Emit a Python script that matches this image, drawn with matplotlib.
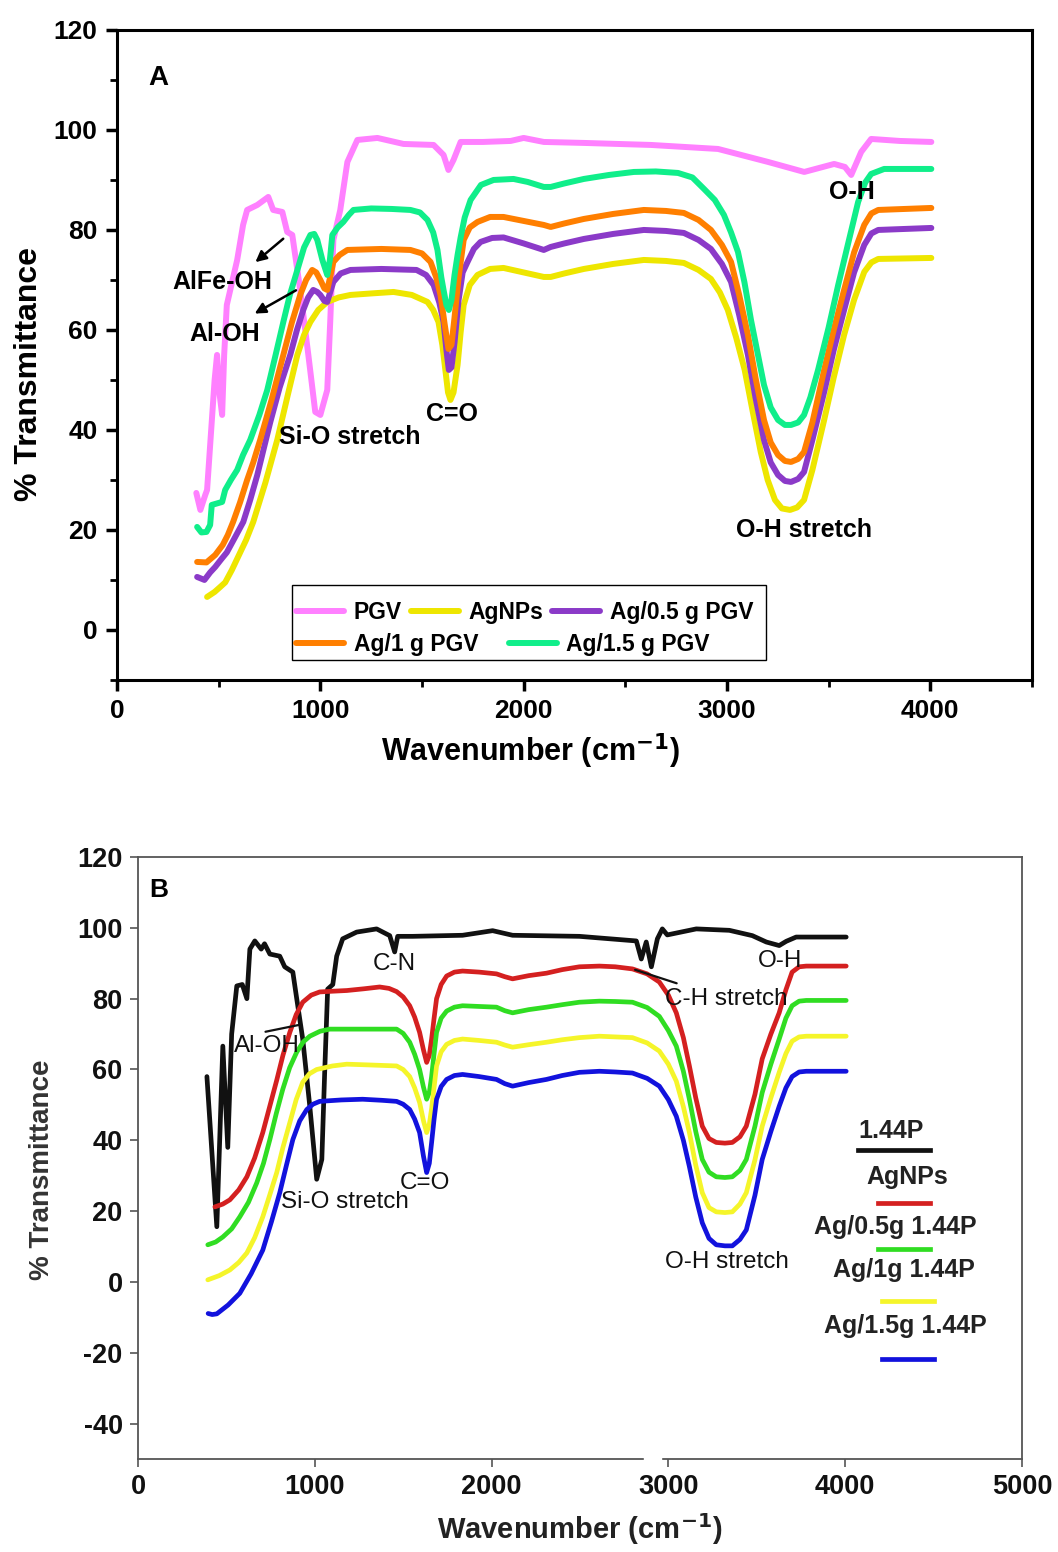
import matplotlib
matplotlib.use("Agg")
import matplotlib.pyplot as plt
from matplotlib.patches import Rectangle
from matplotlib.ticker import MultipleLocator
import matplotlib.transforms as mtransforms

plt.rcParams["font.family"] = ["Liberation Sans", "DejaVu Sans"]
plt.rcParams["axes.unicode_minus"] = False

# ---------- panel A data (wavenumber, % transmittance) ----------
pgv_x = [390, 410, 434, 443, 480, 492, 505, 517, 527, 540, 591, 620, 640, 690, 744, 768, 813, 837,
         862, 901, 941, 975, 1000, 1034, 1049, 1064, 1098, 1133, 1182, 1281, 1409, 1557, 1606, 1630,
         1655, 1690, 1800, 1936, 2000, 2099, 2300, 2626, 2956, 3202, 3380, 3527, 3580, 3611, 3660,
         3709, 3850, 4005]
pgv_y = [27.4, 24, 27, 28, 50, 55, 47, 43, 55, 65, 74, 81, 84, 85, 86.6, 84, 83.6, 79.6,
         79, 68, 55, 43.6, 43, 48, 62, 78, 84, 93.6, 98, 98.4, 97.2, 97, 95, 92,
         94, 97.6, 97.6, 97.8, 98.4, 97.6, 97.4, 97, 96.2, 93.6, 91.6, 93.2, 92.6, 91, 95.6,
         98.2, 97.8, 97.6]

agnp_a_x = [443, 480, 505, 532, 565, 600, 635, 670, 730, 788, 840, 887, 920, 951, 990, 1034, 1090,
            1148, 1250, 1360, 1450, 1527, 1555, 1581, 1600, 1616, 1628, 1640, 1655, 1675, 1690,
            1705, 1735, 1773, 1835, 1901, 2000, 2099, 2133, 2200, 2296, 2440, 2591, 2700, 2788,
            2860, 2921, 2965, 3004, 3045, 3087, 3125, 3166, 3200, 3236, 3270, 3310, 3345, 3379,
            3420, 3478, 3525, 3576, 3625, 3675, 3710, 3744, 4005]
agnp_a_y = [6.6, 7.6, 8.5, 9.5, 12, 15, 18, 21.6, 29.5, 38, 47, 55, 59, 61.6, 64, 65.6, 66.5,
            67, 67.3, 67.6, 67, 65.6, 64, 61.6, 57, 51.6, 47.5, 46, 47.5, 53, 59.5,
            65, 69, 71, 72.2, 72.4, 71.5, 70.6, 70.6, 71.3, 72.2, 73.2, 74, 73.8, 73.4,
            72, 70.2, 67.5, 64, 58.5, 52, 44, 35.6, 30, 26, 24.3, 24, 24.5, 26,
            32, 42, 50.5, 59, 66, 71.6, 73.5, 74.2, 74.4]

ag05_a_x = [394, 430, 458, 483, 510, 540, 580, 621, 655, 690, 720, 754, 800, 852, 885, 916, 940,
            965, 985, 1000, 1020, 1034, 1048, 1064, 1100, 1148, 1300, 1473, 1520, 1557, 1585,
            1606, 1620, 1632, 1645, 1660, 1680, 1700, 1724, 1755, 1788, 1845, 1901, 2000, 2099,
            2133, 2200, 2296, 2440, 2591, 2700, 2788, 2860, 2921, 2975, 3020, 3060, 3103, 3140,
            3182, 3215, 3251, 3285, 3315, 3350, 3379, 3420, 3478, 3525, 3576, 3625, 3675, 3710,
            3744, 4005]
ag05_a_y = [10.6, 10, 11.5, 12.6, 14, 15.5, 18.5, 21.6, 26, 31, 36, 41.6, 48.5, 55, 60, 64, 66.5,
            68, 67.6, 67, 65.8, 65.6, 67.5, 69.6, 71.3, 72, 72.2, 72, 71, 69, 65.5,
            61.6, 56, 52, 52.5, 57.5, 66, 71.5, 73.6, 76.2, 77.6, 78.4, 78.5, 77.3, 76,
            76.6, 77.3, 78.2, 79.2, 80, 79.8, 79.4, 78, 76.2, 73.2, 69.6, 63, 55, 46.5,
            38, 33.5, 31, 29.8, 29.6, 30.2, 31.6, 38, 47.6, 56, 64, 71.5, 77, 79.3,
            80, 80.4]

ag1_a_x = [394, 440, 483, 520, 545, 571, 605, 640, 670, 704, 760, 818, 860, 901, 930, 960, 980,
           1000, 1020, 1034, 1048, 1064, 1095, 1133, 1300, 1443, 1500, 1542, 1570, 1591, 1612,
           1630, 1645, 1660, 1680, 1705, 1735, 1773, 1835, 1901, 2000, 2099, 2133, 2200, 2296,
           2440, 2591, 2700, 2788, 2860, 2921, 2975, 3020, 3060, 3103, 3140, 3182, 3215, 3251,
           3285, 3315, 3350, 3379, 3420, 3478, 3525, 3576, 3625, 3675, 3710, 3744, 4005]
ag1_a_y = [13.6, 13.5, 15, 17, 19, 21.6, 25.5, 30, 33.5, 38, 46, 55, 61.5, 67, 70, 72, 71.5,
           70, 68.3, 68, 70.5, 73.6, 75, 76, 76.2, 76, 75.3, 73.6, 70.5, 67, 61,
           56.2, 57, 62.5, 70.5, 78, 80.5, 81.6, 82.6, 82.6, 81.8, 81, 80.6, 81.3, 82.2,
           83.2, 84, 83.8, 83.4, 82, 80, 77, 73.6, 67, 59, 50.5, 42, 37.5, 35,
           33.8, 33.6, 34.2, 35.6, 41.5, 52, 60, 68, 75.5, 81, 83.3, 84, 84.4]

ag15_a_x = [394, 415, 440, 458, 466, 517, 532, 560, 591, 620, 655, 700, 739, 780, 818, 850, 887,
            920, 951, 970, 985, 1010, 1034, 1047, 1059, 1085, 1113, 1140, 1163, 1250, 1350, 1443,
            1490, 1527, 1555, 1576, 1595, 1606, 1620, 1632, 1645, 1660, 1675, 1690, 1710, 1739,
            1790, 1852, 1950, 2020, 2099, 2133, 2200, 2296, 2420, 2542, 2650, 2759, 2830, 2887,
            2940, 2985, 3020, 3054, 3086, 3118, 3150, 3182, 3215, 3251, 3285, 3315, 3350, 3379,
            3410, 3448, 3500, 3547, 3600, 3645, 3680, 3709, 3773, 4005]
ag15_a_y = [20.6, 19.5, 19.6, 21, 25, 25.6, 28, 30, 32, 35, 38, 43, 48, 55, 61.6, 67, 72,
            76.5, 79, 79.2, 78, 74, 71, 74, 79, 80.5, 81.6, 83, 84, 84.3, 84.2, 84,
            83.5, 82, 79.5, 76, 70.5, 68, 65, 64, 66, 71, 75, 78.5, 82.5, 86,
            89, 90, 90.2, 89.6, 88.6, 88.6, 89.3, 90.2, 91, 91.6, 91.7, 91.4, 90.5, 88.2,
            86, 83, 79.5, 75.6, 69.5, 62, 55.5, 49, 44.5, 42, 41, 41, 41.5, 43,
            46.5, 52, 60.5, 69, 78, 85.6, 89.5, 91.2, 92.2, 92.2]

labels_a = ["PGV", "AgNPs", "Ag/0.5 g PGV", "Ag/1 g PGV", "Ag/1.5 g PGV"]
colors_a = ["#FF80FF", "#EEE600", "#8B3AC8", "#FF7F00", "#10EE8A"]

# ---------- panel B data ----------
p144_x = [390, 446, 480, 508, 530, 559, 590, 616, 633, 661, 697, 716, 746, 802, 830, 876, 898, 932,
          972, 1011, 1040, 1056, 1073, 1102, 1124, 1158, 1237, 1350, 1424, 1452, 1469, 1554, 1836,
          2006, 2119, 2497, 2819, 2847, 2875, 2904, 2938, 2966, 2994, 3158, 3345, 3475, 3554,
          3627, 3667, 3723, 4006]
p144_y = [58, 15.6, 66.6, 38, 70, 83.6, 84, 80, 94, 96.3, 94, 95.5, 92.6, 92, 89, 87.5, 80, 68.6,
          49.6, 29, 34.6, 59, 82.7, 84, 92, 96.9, 98.8, 99.7, 97.8, 93.2, 97.6, 97.6, 97.9,
          99.2, 97.9, 97.6, 96.3, 91.2, 96, 89, 96.9, 99.7, 98, 99.7, 99.3, 97.8, 96,
          95, 96.2, 97.4, 97.4]

agnp_b_x = [435, 480, 520, 570, 616, 660, 706, 745, 785, 820, 859, 895, 932, 980, 1028, 1100, 1181,
            1280, 1367, 1420, 1463, 1500, 1537, 1565, 1593, 1615, 1633, 1648, 1661, 1675, 1689,
            1715, 1746, 1790, 1836, 1930, 2028, 2075, 2119, 2210, 2311, 2400, 2497, 2610, 2700,
            2797, 2880, 2949, 3000, 3045, 3085, 3119, 3155, 3192, 3230, 3271, 3320, 3362, 3405,
            3441, 3490, 3531, 3580, 3627, 3665, 3700, 3740, 3780, 4006]
agnp_b_y = [21.2, 22, 23.2, 26, 29.7, 35, 42.2, 49.5, 57, 64, 70.5, 75.5, 79, 81, 81.9, 82.1, 82.3,
            82.8, 83.3, 82.9, 82, 80.5, 78, 74.8, 70.5, 65.5, 62, 64, 68.6, 74.5, 80,
            84, 86.4, 87.5, 87.8, 87.5, 87, 86.2, 85.6, 86.5, 87.2, 88.2, 89, 89.2, 89,
            88.4, 87, 84.7, 81, 76, 69, 61, 52, 44, 40.5, 39.4, 39.2, 39.4, 41,
            44, 53, 63, 70, 76, 82.5, 87.5, 89, 89.2, 89.2]

ag05_b_x = [395, 440, 480, 530, 576, 625, 672, 710, 746, 782, 819, 858, 898, 935, 972, 1030, 1085,
            1250, 1463, 1500, 1537, 1565, 1593, 1615, 1633, 1648, 1661, 1675, 1689, 1715, 1746,
            1790, 1836, 1930, 2028, 2075, 2119, 2210, 2311, 2400, 2497, 2610, 2700, 2797, 2880,
            2949, 3000, 3045, 3085, 3119, 3155, 3192, 3230, 3271, 3320, 3362, 3405, 3441, 3490,
            3531, 3580, 3627, 3665, 3700, 3740, 3780, 4006]
ag05_b_y = [10.5, 11.3, 12.7, 15, 18.4, 22.5, 28, 33.5, 40.2, 47.5, 54.4, 60.5, 64.9, 67.8, 69.4,
            70.8, 71.4, 71.4, 71.4, 70.2, 67.7, 64.3, 60, 55, 51.6, 53.5, 58, 64.5, 70.5,
            74.5, 76.5, 77.6, 78, 77.8, 77.6, 76.6, 76, 76.9, 77.6, 78.3, 79, 79.3, 79.2,
            79, 77.5, 75, 71, 66.6, 59.5, 51.6, 42.5, 34.6, 31, 29.7, 29.5, 29.7, 31.5,
            34.6, 44, 53.5, 61.5, 68.6, 74.5, 78, 79.3, 79.5, 79.5]

ag1_b_x = [395, 460, 520, 570, 616, 660, 706, 745, 785, 820, 859, 895, 932, 970, 1011, 1100, 1181,
           1300, 1463, 1500, 1537, 1565, 1593, 1615, 1633, 1648, 1661, 1675, 1689, 1715, 1746,
           1790, 1836, 1930, 2028, 2075, 2119, 2210, 2311, 2400, 2497, 2610, 2700, 2797, 2880,
           2949, 3000, 3045, 3085, 3119, 3155, 3192, 3230, 3271, 3320, 3362, 3405, 3441, 3490,
           3531, 3580, 3627, 3665, 3700, 3740, 3780, 4006]
ag1_b_y = [0.6, 1.8, 3.4, 5.5, 8.2, 12.5, 18.4, 24.5, 30.9, 38, 45, 51.5, 56.4, 58.8, 60, 61, 61.5,
           61.3, 61, 60, 58, 54.8, 50.7, 45.5, 42.2, 44.5, 49, 55, 61, 65, 67.1,
           68.2, 68.6, 68.2, 67.7, 66.9, 66.3, 67, 67.7, 68.4, 69, 69.4, 69.2, 69, 67.5,
           65.2, 61.5, 56.7, 49.5, 42.2, 33, 25.2, 21, 19.8, 19.6, 19.8, 22, 25.2, 34.5,
           44, 52, 59.2, 64.5, 68, 69.2, 69.4, 69.4]

ag15_b_x = [397, 420, 446, 510, 576, 640, 706, 755, 802, 840, 876, 915, 955, 990, 1028, 1150, 1271,
            1380, 1463, 1500, 1537, 1565, 1593, 1615, 1633, 1648, 1661, 1675, 1689, 1715, 1746,
            1790, 1836, 1930, 2028, 2075, 2119, 2210, 2311, 2400, 2497, 2610, 2700, 2797, 2880,
            2949, 3000, 3045, 3085, 3119, 3155, 3192, 3230, 3271, 3320, 3362, 3405, 3441, 3490,
            3531, 3580, 3627, 3665, 3700, 3740, 3780, 4006]
ag15_b_y = [-8.9, -9.2, -9, -6.5, -3.2, 2.3, 9, 17, 25.2, 33, 40.2, 45.5, 48.7, 50.2, 51, 51.4, 51.6,
            51.3, 51, 50.2, 48.7, 46, 42.2, 35.5, 30.9, 33.5, 39.4, 46, 51.6, 55.2, 57.2,
            58.3, 58.6, 58, 57.2, 56, 55.3, 56.3, 57.2, 58.3, 59.2, 59.5, 59.3, 59, 57.5,
            55.3, 51.5, 46.8, 40, 32.6, 24, 16.7, 12.3, 10.5, 10.2, 10.2, 12, 14.7, 24.5,
            34.6, 42.5, 49.6, 54.8, 58, 59.3, 59.5, 59.5]

labels_b = ["1.44P", "AgNPs", "Ag/0.5g 1.44P", "Ag/1g 1.44P", "Ag/1.5g 1.44P"]
colors_b = ["#111111", "#D42020", "#30DD22", "#F5F52A", "#1212DD"]


fig = plt.figure(figsize=(10.58, 15.52), dpi=100)

# ================= panel A =================
axA = fig.add_axes([0.1106, 0.5619, 0.8648, 0.4188])
series_a = [(pgv_x, pgv_y), (agnp_a_x, agnp_a_y), (ag05_a_x, ag05_a_y),
            (ag1_a_x, ag1_a_y), (ag15_a_x, ag15_a_y)]
lines_a = []
for (xs, ys), lab, col in zip(series_a, labels_a, colors_a):
    ln, = axA.plot(xs, ys, color=col, lw=4.3, label=lab, solid_joinstyle="round",
                   solid_capstyle="round")
    lines_a.append(ln)

axA.set_xlim(0, 4500)
axA.set_ylim(-10, 120)
axA.set_xticks([0, 1000, 2000, 3000, 4000])
axA.xaxis.set_minor_locator(MultipleLocator(500))
axA.set_yticks(range(0, 121, 20))
axA.yaxis.set_minor_locator(MultipleLocator(10))
axA.tick_params(which="major", direction="out", length=8, width=2.5, labelsize=19, pad=6)
axA.tick_params(which="minor", direction="out", length=5, width=2)
for lbl in axA.get_xticklabels() + axA.get_yticklabels():
    lbl.set_fontweight("bold")
for sp in axA.spines.values():
    sp.set_linewidth(2.2)
axA.set_ylabel("% Transmittance", fontsize=23, fontweight="bold")
axA.yaxis.set_label_coords(-0.08, 0.47)
axA.set_xlabel("Wavenumber (cm$^{\\mathbf{-1}}$)", fontsize=22, fontweight="bold")
axA.xaxis.set_label_coords(0.452, -0.08)

axA.text(0.045, 0.926, "A", transform=axA.transAxes, fontsize=20, fontweight="bold",
         ha="center", va="center")

ann = dict(fontsize=18, fontweight="bold", ha="center", va="center")
axA.text(517, 69.6, "AlFe-OH", **ann)
axA.text(532, 59.2, "Al-OH", **ann)
axA.text(1145, 38.6, "Si-O stretch", **ann)
axA.text(1645, 43.2, "C=O", **ann)
axA.text(3616, 87.6, "O-H", **ann)
axA.text(3379, 20, "O-H stretch", **ann)
arrow = dict(arrowstyle="-|>", color="black", lw=1.8, mutation_scale=16)
axA.annotate("", xy=(670, 73.2), xytext=(828, 78.6), arrowprops=arrow)
axA.annotate("", xy=(665, 63), xytext=(892, 68.2), arrowprops=arrow)

# legend box: two rows with different spacing, drawn as two legends in one frame
axA.add_patch(Rectangle((0.191, 0.031), 0.518, 0.115, transform=axA.transAxes,
                        fill=False, edgecolor="black", lw=1.0, zorder=5))
leg_kw = dict(frameon=False, borderpad=0, handlelength=2.1, handletextpad=0.4,
              prop={"weight": "bold", "size": 16.5}, loc="center left", borderaxespad=0)
leg1 = axA.legend(lines_a[:3], labels_a[:3], ncol=3, columnspacing=0.4,
                  bbox_to_anchor=(0.196, 0.104), **leg_kw)
axA.add_artist(leg1)
axA.legend(lines_a[3:], labels_a[3:], ncol=2, columnspacing=1.35,
           bbox_to_anchor=(0.196, 0.054), **leg_kw)

# ================= panel B =================
axB = fig.add_axes([0.1304, 0.0599, 0.8355, 0.3879])
series_b = [(p144_x, p144_y), (agnp_b_x, agnp_b_y), (ag05_b_x, ag05_b_y),
            (ag1_b_x, ag1_b_y), (ag15_b_x, ag15_b_y)]
for (xs, ys), col in zip(series_b, colors_b):
    axB.plot(xs, ys, color=col, lw=3.4, solid_joinstyle="round", solid_capstyle="round")

axB.set_xlim(0, 5000)
axB.set_ylim(-50, 120)
axB.set_xticks(range(0, 5001, 1000))
axB.set_yticks(range(-40, 121, 20))
axB.tick_params(direction="out", length=6, width=1.2, colors="#555555",
                labelcolor="#111111", labelsize=19.5, pad=5)
for lbl in axB.get_xticklabels() + axB.get_yticklabels():
    lbl.set_fontweight("bold")
for sp in axB.spines.values():
    sp.set_linewidth(1.3)
    sp.set_color("#555555")
axB.set_ylabel("% Transmittance", fontsize=20, fontweight="bold", color="#333333")
axB.yaxis.set_label_coords(-0.094, 0.48)
axB.set_xlabel("Wavenumber (cm$^{\\mathbf{-1}}$)", fontsize=21, fontweight="bold",
               color="#222222", labelpad=8)

# small break in the bottom frame line, as in the scanned figure
trans = mtransforms.blended_transform_factory(axB.transData, axB.transAxes)
axB.add_patch(Rectangle((2860, -0.01), 100, 0.02, transform=trans, color="white",
                        clip_on=False, zorder=10))

axB.text(0.023, 0.945, "B", transform=axB.transAxes, fontsize=19, fontweight="bold",
         ha="center", va="center")

annB = dict(fontsize=17.5, ha="center", va="center", color="#111111")
axB.text(1452, 89.8, "C-N", **annB)
axB.text(729, 66.6, "Al-OH", **annB)
axB.text(1169, 22.7, "Si-O stretch", **annB)
axB.text(1621, 28, "C=O", **annB)
axB.text(3333, 5.7, "O-H stretch", **annB)
axB.text(3633, 90.6, "O-H", **annB)
axB.text(3328, 80, "C-H stretch", **annB)
axB.annotate("", xy=(932, 72.8), xytext=(706, 70.5),
             arrowprops=dict(arrowstyle="-", color="#111111", lw=1.6))
axB.annotate("", xy=(3062, 84.1), xytext=(2797, 88.4),
             arrowprops=dict(arrowstyle="-", color="#111111", lw=1.6))

# legend-like labels with swatches below each text
txt_pos = [(0.852, 0.545), (0.870, 0.468), (0.857, 0.385), (0.866, 0.314), (0.868, 0.221)]
sw_pos = [(0.8145, 0.896, 0.513), (0.837, 0.896, 0.425), (0.837, 0.896, 0.349),
          (0.842, 0.900, 0.262), (0.842, 0.900, 0.166)]
for lab, col, (tx, ty), (x0, x1, sy) in zip(labels_b, colors_b, txt_pos, sw_pos):
    axB.text(tx, ty, lab, transform=axB.transAxes, fontsize=18, fontweight="bold",
             ha="center", va="center", color="#222222")
    axB.plot([x0, x1], [sy, sy], transform=axB.transAxes, color=col, lw=3.4)

fig.savefig("out.png", dpi=100)
